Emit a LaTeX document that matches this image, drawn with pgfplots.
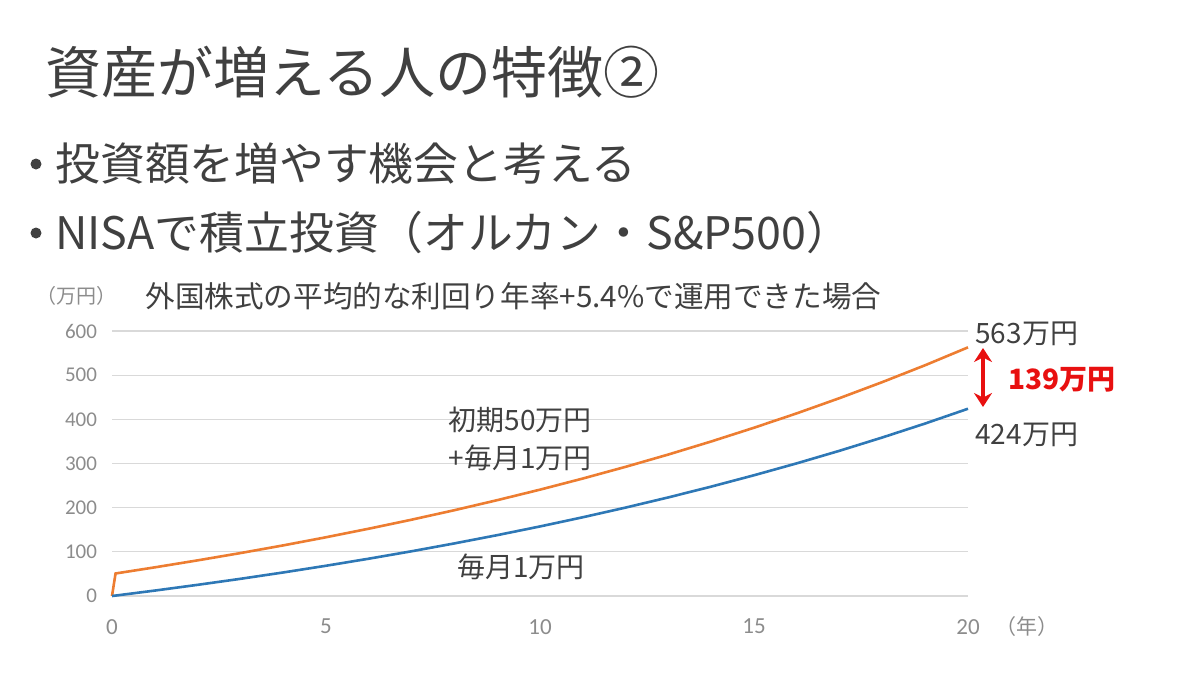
\documentclass[border=0pt]{standalone}
\usepackage{fontspec}
\usepackage{pgfplots}
\pgfplotsset{compat=1.18}
\usetikzlibrary{arrows.meta}
\setmainfont{Noto Sans CJK JP}
\newfontfamily\carlito{Carlito}
\definecolor{txt}{HTML}{404040}
\definecolor{tick}{HTML}{8C8C8C}
\definecolor{cblue}{HTML}{2E78B6}
\definecolor{corange}{HTML}{ED7D31}
\definecolor{gridgray}{HTML}{D9D9D9}
\definecolor{cred}{HTML}{E81010}
\newcommand\fs[1]{\fontsize{#1}{#1}\selectfont}
\begin{document}
\begin{tikzpicture}[x=0.5pt,y=-0.5pt]
\path[use as bounding box] (0,0) rectangle (1200,675);
\node[anchor=west,inner sep=0,text=txt,font=\fs{28}] at (45,72) {資産が増える人の特徴②};
\fill[txt] (36,164) circle (5.5);
\node[anchor=west,inner sep=0,text=txt,font=\fs{22.4}] at (55,163) {投資額を増やす機会と考える};
\fill[txt] (36,233) circle (5.5);
\node[anchor=west,inner sep=0,text=txt,font=\fs{22.4}] at (55,232) {NISAで積立投資（オルカン・S\&P500）};
\node[anchor=west,inner sep=0,text=tick,font=\fs{10}] at (36,296) {（万円）};
\node[anchor=west,inner sep=0,text=txt,font=\fs{14.8}] at (145,296) {外国株式の平均的な利回り年率+5.4\%で運用できた場合};
\node[anchor=west,inner sep=0,text=tick,font=\fs{10.5}] at (995,627) {（年）};
\begin{axis}[
  at={(56pt,-298pt)}, anchor=south west,
  scale only axis, width=428pt, height=132.5pt,
  xmin=0, xmax=20, ymin=0, ymax=600,
  xtick={0,5,10,15,20}, ytick={0,100,200,300,400,500,600},
  axis x line*=bottom, axis y line*=left,
  axis line style={draw=none},
  major tick length=0pt,
  xmajorgrids=false, ymajorgrids=true,
  major grid style={draw=gridgray, line width=0.6pt},
  yticklabel style={font=\carlito\fs{10.5}, text=tick, xshift=-4pt},
  xticklabel style={font=\carlito\fs{11.5}, text=tick, yshift=-8pt},
  /pgf/number format/assume math mode=true,
  clip=false,
]
\addplot[corange, line width=1.3pt] coordinates {
(0,0) (0.083,51) (1,64.9) (2,80.7) (3,97.2) (4,114.6) (5,133.0) (6,152.4) (7,172.8) (8,194.3) (9,217.0) (10,240.8) (11,266.0) (12,292.5) (13,320.4) (14,349.9) (15,381.0) (16,413.6) (17,448.1) (18,484.4) (19,522.6) (20,563)};
\addplot[cblue, line width=1.3pt] coordinates {
(0,0) (0.083,1) (1,12.3) (2,25.3) (3,38.9) (4,53.3) (5,68.5) (6,84.5) (7,101.3) (8,119.1) (9,137.8) (10,157.5) (11,178.3) (12,200.2) (13,223.3) (14,247.7) (15,273.4) (16,300.4) (17,328.9) (18,359.0) (19,390.6) (20,424.0)};
\end{axis}
\node[anchor=west,inner sep=0,text=txt,font=\fs{14}] at (975,334) {563万円};
\node[anchor=west,inner sep=0,text=txt,font=\fs{14}] at (975,435) {424万円};
\node[anchor=west,inner sep=0,text=cred,font=\bfseries\fs{14}] at (1008,380) {139万円};
\draw[cred, line width=2pt, {Stealth[length=7pt,width=9pt]}-{Stealth[length=7pt,width=9pt]}] (983,348) -- (983,407);
\node[inner sep=0,text=txt,font=\fs{14}] at (520,420) {初期50万円};
\node[inner sep=0,text=txt,font=\fs{14}] at (520,458) {+毎月1万円};
\node[inner sep=0,text=txt,font=\fs{14}] at (521,567) {毎月1万円};
\end{tikzpicture}
\end{document}
